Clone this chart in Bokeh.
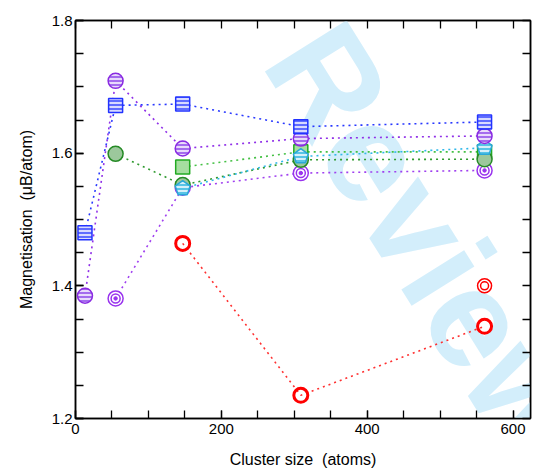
import math
from bokeh.plotting import figure
from bokeh.models import FixedTicker, LinearAxis, Label, Range1d
from bokeh.embed import file_html
from bokeh.resources import INLINE

# ---------------- data ----------------
x_blue_sq = [13, 55, 147, 309, 561]
y_blue_sq = [1.480, 1.672, 1.674, 1.640, 1.647]

x_purple_st = [13, 55, 147, 309, 561]
y_purple_st = [1.385, 1.709, 1.607, 1.622, 1.626]

x_green_circ = [55, 147, 309, 561]
y_green_circ = [1.599, 1.552, 1.590, 1.591]

x_green_sq = [147, 309, 561]
y_green_sq = [1.579, 1.602, 1.602]

x_cyan_pent = [147, 309, 561]
y_cyan_pent = [1.547, 1.595, 1.608]

x_purple_ring = [55, 147, 309, 561]
y_purple_ring = [1.381, 1.548, 1.570, 1.574]

x_red_circ = [147, 309, 561]
y_red_circ = [1.464, 1.235, 1.339]

x_red_ring = [561]
y_red_ring = [1.400]

x_tick_labels = [0, 200, 400, 600]
x_all_ticks = [0, 50, 100, 150, 200, 250, 300, 350, 400, 450, 500, 550, 600]
y_tick_labels = [1.2, 1.4, 1.6, 1.8]
y_all_ticks = [1.2, 1.25, 1.3, 1.35, 1.4, 1.45, 1.5, 1.55, 1.6, 1.65, 1.7, 1.75, 1.8]

X_MIN, X_MAX = 0, 624
Y_MIN, Y_MAX = 1.2, 1.8

# ---------------- layout ----------------
W, H = 541, 473
BL, BR, BT, BB = 75, 11, 20, 55
FONT = "Liberation Sans"

p = figure(width=W, height=H, x_range=Range1d(X_MIN, X_MAX), y_range=Range1d(Y_MIN, Y_MAX),
           output_backend="svg", toolbar_location=None,
           min_border_left=BL, min_border_right=BR, min_border_top=BT, min_border_bottom=BB)
p.grid.visible = False
p.outline_line_color = "black"
p.outline_line_width = 1.5
p.background_fill_color = "white"
p.border_fill_color = "white"

# pixels per data unit (frame is fixed size)
PX_X = (W - BL - BR) / (X_MAX - X_MIN)
PX_Y = (H - BT - BB) / (Y_MAX - Y_MIN)


def style_axis(ax, ticks, minor):
    ax.ticker = FixedTicker(ticks=ticks, minor_ticks=minor)
    ax.major_tick_in = 8
    ax.major_tick_out = 0
    ax.minor_tick_in = 8
    ax.minor_tick_out = 0
    ax.axis_line_width = 1.5
    ax.major_tick_line_width = 1.3
    ax.minor_tick_line_width = 1.3
    ax.axis_line_color = "black"
    ax.major_tick_line_color = "black"
    ax.minor_tick_line_color = "black"
    ax.major_label_text_font = FONT
    ax.major_label_text_font_size = "15px"
    ax.major_label_text_color = "black"


xa = p.xaxis[0]
style_axis(xa, x_tick_labels, x_all_ticks)
xa.major_label_standoff = 5
xa.axis_label = "Cluster size\u00a0 (atoms)"
xa.axis_label_text_font = FONT
xa.axis_label_text_font_size = "16px"
xa.axis_label_text_font_style = "normal"
xa.axis_label_text_color = "black"
xa.axis_label_standoff = 14

ya = p.yaxis[0]
style_axis(ya, y_tick_labels, y_all_ticks)
ya.major_label_standoff = 3
ya.axis_label = "Magnetisation\u00a0 (\u03bcB/atom)"
ya.axis_label_text_font = FONT
ya.axis_label_text_font_size = "16px"
ya.axis_label_text_font_style = "normal"
ya.axis_label_text_color = "black"
ya.axis_label_standoff = 14

top = LinearAxis()
style_axis(top, [], x_all_ticks)
top.major_label_standoff = 0
p.add_layout(top, "above")

right = LinearAxis()
style_axis(right, [], y_all_ticks)
right.major_label_standoff = 0
p.add_layout(right, "right")

# ---------------- watermark ----------------
wm = Label(x=516, y=1.411, text="For Review Only", angle=-1.012,
           text_align="center", text_baseline="alphabetic",
           text_font=FONT, text_font_size="140px", text_font_style="bold",
           text_color="#d3eefb", level="underlay")
p.add_layout(wm)

# ---------------- lines ----------------
DASH = "2 4"
LW = 1.6
p.line(x_red_circ, y_red_circ, line_color="#ff3030", line_dash=DASH, line_width=LW)
p.line(x_purple_ring, y_purple_ring, line_color="#a040f0", line_dash=DASH, line_width=LW)
p.line(x_green_circ, y_green_circ, line_color="#2f9a2f", line_dash=DASH, line_width=LW)
p.line(x_green_sq, y_green_sq, line_color="#44c044", line_dash=DASH, line_width=LW)
p.line(x_cyan_pent, y_cyan_pent, line_color="#30b8ea", line_dash=DASH, line_width=LW)
p.line(x_purple_st, y_purple_st, line_color="#9030e8", line_dash=DASH, line_width=LW)
p.line(x_blue_sq, y_blue_sq, line_color="#2838ff", line_dash=DASH, line_width=LW)

# ---------------- markers ----------------
# red open circles
p.scatter(x_red_circ, y_red_circ, marker="circle", size=14, fill_color=None,
          line_color="#ff0000", line_width=3)
# red concentric ring
p.scatter(x_red_ring, y_red_ring, marker="circle", size=14, fill_color=None,
          line_color="#ff0000", line_width=1.5)
p.scatter(x_red_ring, y_red_ring, marker="circle", size=8, fill_color=None,
          line_color="#ff0000", line_width=1.5)

# purple concentric rings
p.scatter(x_purple_ring, y_purple_ring, marker="circle", size=15, fill_color="white",
          line_color="#9933ee", line_width=1.5)
p.scatter(x_purple_ring, y_purple_ring, marker="circle", size=9, fill_color=None,
          line_color="#9933ee", line_width=1.5)
p.scatter(x_purple_ring, y_purple_ring, marker="circle", size=3.5, fill_color="#9933ee",
          line_color="#9933ee", line_width=1)

# green squares
p.scatter(x_green_sq, y_green_sq, marker="square", size=14, fill_color="#a6dea0",
          line_color="#22aa22", line_width=1.5)
# green circles
p.scatter(x_green_circ, y_green_circ, marker="circle", size=15, fill_color="#9cc89c",
          line_color="#258a25", line_width=1.5)

# cyan striped pentagons
R_PENT = 7.8
pent_xs, pent_ys = [], []
for xv, yv in zip(x_cyan_pent, y_cyan_pent):
    xs, ys = [], []
    for k in range(5):
        a = math.pi / 2 + 2 * math.pi * k / 5
        xs.append(xv + R_PENT * math.cos(a) / PX_X)
        ys.append(yv + R_PENT * math.sin(a) / PX_Y)
    pent_xs.append(xs)
    pent_ys.append(ys)
p.patches(pent_xs, pent_ys, fill_color="#58c4e6", line_color="#2aa8d8", line_width=1.5,
          hatch_pattern="horizontal_line", hatch_color="white", hatch_scale=4, hatch_weight=1.5)

# purple striped circles
p.scatter(x_purple_st, y_purple_st, marker="circle", size=15, fill_color="#a46cee",
          line_color="#8a2be2", line_width=1.5,
          hatch_pattern="horizontal_line", hatch_color="white", hatch_scale=4, hatch_weight=1.5)

# blue striped squares
p.scatter(x_blue_sq, y_blue_sq, marker="square", size=14, fill_color="#5f6cff",
          line_color="#2233ff", line_width=1.5,
          hatch_pattern="horizontal_line", hatch_color="white", hatch_scale=4, hatch_weight=1.5)

open("out.html", "w").write(file_html(p, INLINE))
